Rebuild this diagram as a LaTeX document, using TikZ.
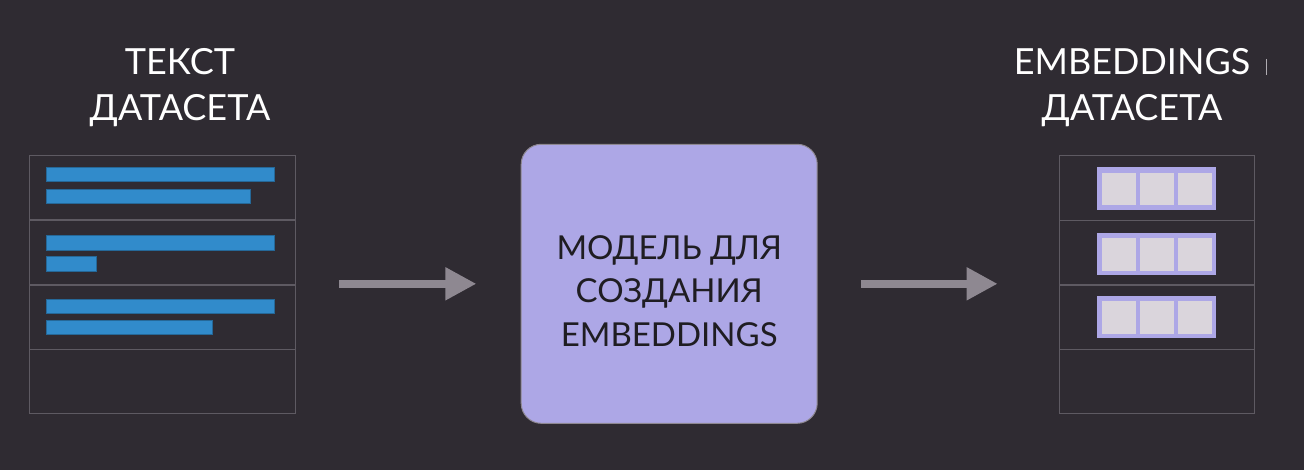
\documentclass[tikz,border=0pt]{standalone}
\usepackage{fontspec}
\setmainfont{Lato}
\usetikzlibrary{arrows.meta,positioning}

\definecolor{bgdark}{HTML}{2F2B32}
\definecolor{gridgray}{HTML}{5E5A62}
\definecolor{barblue}{HTML}{318BCB}
\definecolor{lavender}{HTML}{ADA7E6}
\definecolor{cellgray}{HTML}{DAD5DC}
\definecolor{arrowgray}{HTML}{8E8891}
\definecolor{inkdark}{HTML}{1F1D22}

\tikzset{
    tablebox/.style={draw=gridgray, line width=1.3pt, minimum width=266pt, minimum height=258pt, inner sep=0pt},
    gridline/.style={draw=gridgray, line width=1.3pt},
    textbar/.style={fill=barblue, draw=barblue!75!black, line width=0.5pt},
    modelbox/.style={fill=lavender, draw=arrowgray, line width=1pt, rounded corners=20pt,
        minimum width=296pt, minimum height=279pt},
    modeltext/.style={align=center, text=inkdark, font=\fontsize{33}{43.5}\selectfont},
    headlabel/.style={text=white, align=center, font=\fontsize{36}{46}\selectfont},
    flowarrow/.style={draw=arrowgray, line width=7.7pt, -{Triangle[length=31pt,width=31pt]}}
}

\begin{document}
\begin{tikzpicture}[x=1pt,y=-1pt]
        % Background and page size
        \fill[bgdark] (0,0) rectangle (1304,470);
        \useasboundingbox (0,0) rectangle (1304,470);

        % Left table: text of the dataset
        \node[tablebox] (textds) at (162.5,284.7) {};
        \foreach \r in {220,285,349.5} {
            \draw[gridline] (textds.west |- 0,\r) -- (textds.east |- 0,\r);
        }
        % Bars: top y / right end
        \foreach \y/\len in {167.3/274.7,189/250,235.7/274.7,256.7/96.7,299.3/274.7,320.3/212.3} {
            \draw[textbar] (46.7,\y) rectangle (\len,\y+14.2);
        }

        % Middle: the model
        \node[modelbox] (model) at (669.2,283.8) {};
        \node[modeltext] (modellabel) at ([yshift=-7pt]model.center) {МОДЕЛЬ ДЛЯ\\СОЗДАНИЯ\\EMBEDDINGS};

        % Right table: embeddings of the dataset
        \node[tablebox, minimum width=194.6pt] (embds) at (1157,284.7) {};
        \foreach \r in {220.3,285,349.3} {
            \draw[gridline] (embds.west |- 0,\r) -- (embds.east |- 0,\r);
        }
        \foreach \y in {167.3,232.7,295.7} {
            \fill[lavender] (1097.3,\y) rectangle ++(119,42.7);
            \foreach \x in {1102.7,1140.7,1178.3} {
                \draw[cellgray, fill=cellgray, line width=0.5pt] (\x,\y+5.5) rectangle ++(32.6,31.6);
            }
        }

        % Headings
        \node[headlabel] (textlabel) at (180,88) {ТЕКСТ\\ДАТАСЕТА};
        \node[headlabel] (emblabel) at (1132,88) {EMBEDDINGS\\ДАТАСЕТА};
        \draw[arrowgray!70, line width=1pt] (1266.3,59) -- (1266.3,75);

        % Arrows
        \draw[flowarrow, shorten <=43.3pt, shorten >=44.3pt] (textds.east |- model.west) -- (model.west);
        \draw[flowarrow, shorten <=43.7pt, shorten >=61.4pt] (model.east) -- (embds.west |- model.east);
\end{tikzpicture}
\end{document}
